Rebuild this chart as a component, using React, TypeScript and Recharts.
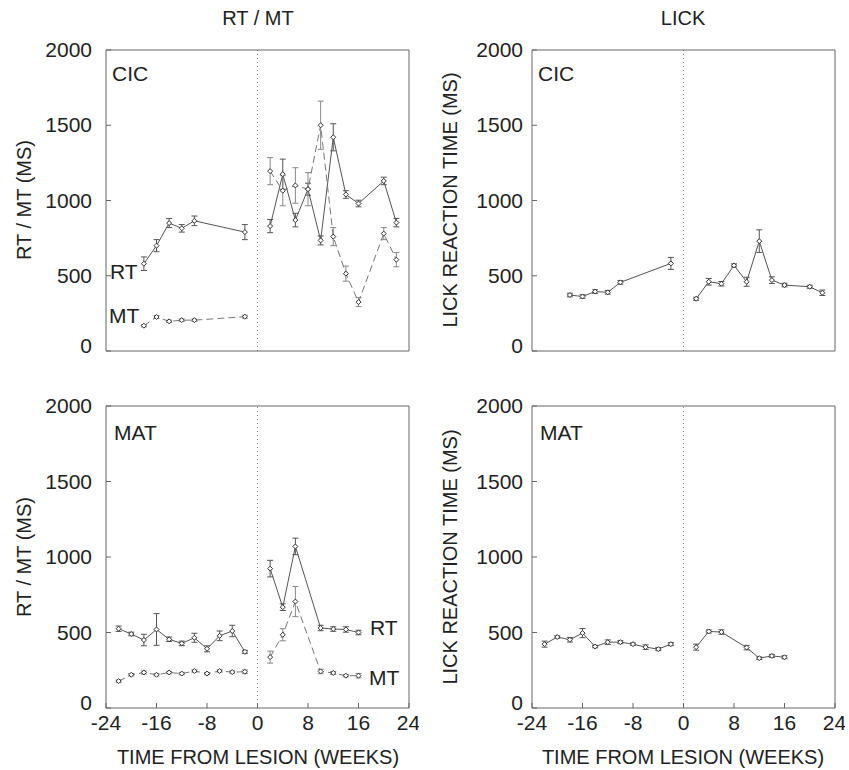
import { LineChart, Line, XAxis, YAxis, ErrorBar, ReferenceLine } from "recharts";

// ---- data (weeks from lesion, ms, sem) ----
const cicPreWeeks = [-18, -16, -14, -12, -10, -2];
const cicRtPre = [580, 700, 850, 815, 865, 790];
const cicRtPreErr = [45, 40, 30, 25, 32, 50];
const cicMtPre = [168, 226, 197, 205, 205, 228];
const cicMtPreErr = [8, 10, 8, 8, 8, 10];

const cicPostWeeks = [2, 4, 6, 8, 10, 12, 14, 16, 20, 22];
const cicRtPost = [830, 1175, 870, 1075, 735, 1420, 1040, 980, 1130, 853];
const cicRtPostErr = [44, 100, 45, 40, 30, 90, 25, 22, 25, 28];
const cicMtPost = [1195, 1065, 1100, 1075, 1500, 760, 514, 325, 780, 607];
const cicMtPostErr = [90, 100, 118, 110, 160, 60, 50, 30, 40, 47];

const matPreWeeks = [-22, -20, -18, -16, -14, -12, -10, -8, -6, -4, -2];
const matRtPre = [525, 490, 450, 520, 455, 428, 465, 392, 478, 510, 372];
const matRtPreErr = [18, 12, 38, 105, 15, 15, 30, 20, 32, 38, 10];
const matMtPre = [178, 220, 235, 220, 235, 228, 245, 228, 245, 238, 240];
const matMtPreErr = [8, 8, 10, 8, 8, 8, 8, 8, 8, 8, 12];

const matPostWeeks = [2, 4, 6, 10, 12, 14, 16];
const matRtPost = [923, 668, 1070, 530, 523, 520, 500];
const matRtPostErr = [55, 22, 55, 18, 15, 18, 15];
const matMtPost = [337, 485, 705, 242, 232, 214, 214];
const matMtPostErr = [40, 40, 100, 15, 10, 8, 15];

const lickCicPreWeeks = [-18, -16, -14, -12, -10, -2];
const lickCicPre = [372, 362, 395, 390, 456, 582];
const lickCicPreErr = [12, 12, 12, 12, 12, 40];
const lickCicPostWeeks = [2, 4, 6, 8, 10, 12, 14, 16, 20, 22];
const lickCicPost = [347, 460, 447, 569, 460, 730, 471, 438, 427, 387];
const lickCicPostErr = [10, 22, 15, 10, 30, 75, 22, 12, 10, 18];

const lickMatPreWeeks = [-22, -20, -18, -16, -14, -12, -10, -8, -6, -4, -2];
const lickMatPre = [423, 470, 452, 496, 407, 436, 436, 423, 403, 390, 423];
const lickMatPreErr = [20, 8, 15, 30, 8, 15, 10, 8, 15, 10, 10];
const lickMatPostWeeks = [2, 4, 6, 10, 12, 14, 16];
const lickMatPost = [403, 507, 503, 400, 330, 345, 336];
const lickMatPostErr = [20, 10, 15, 15, 8, 10, 10];

const WEEK_TICKS = [-24, -16, -8, 0, 8, 16, 24];
const MS_TICKS = [0, 500, 1000, 1500, 2000];

const FONT = "'Liberation Sans', Arial, sans-serif";
const AXIS = "#666";
const INK = "#222";

type Row = { w: number; v: number; e: number };
type SeriesDef = { id: string; data: Row[]; dashed?: boolean };

const rows = (weeks: number[], vals: number[], errs: number[]): Row[] =>
  weeks.map((w, i) => ({ w, v: vals[i], e: errs[i] }));

const Diamond = (props: any) => {
  const { cx, cy } = props;
  if (cx == null || cy == null) return null;
  return (
    <path
      d={`M${cx},${cy - 2.5} L${cx + 2.5},${cy} L${cx},${cy + 2.5} L${cx - 2.5},${cy} Z`}
      fill="#fff"
      stroke="#333"
      strokeWidth={1}
    />
  );
};

// y tick label; the "0" sits a little higher so it clears the "-24" below it
const YTick = (props: any) => {
  const { x, y, payload } = props;
  const lift = payload.value === 0 ? 5 : 0;
  return (
    <text x={x} y={y + 7 - lift} textAnchor="end" fontSize={21} fill={INK} fontFamily={FONT}>
      {payload.value}
    </text>
  );
};

const PLOT_W = 303;

function Panel({
  left,
  top,
  height,
  series,
  xLabels,
  yTickMargin,
}: {
  left: number;
  top: number;
  height: number;
  series: SeriesDef[];
  xLabels: boolean;
  yTickMargin: number;
}) {
  const padL = 100;
  const padT = 20;
  const padR = 10;
  const padB = 40;
  // top / right axes are 1px thick so they are drawn and close the frame
  return (
    <div style={{ position: "absolute", left: left - padL, top: top - padT }}>
      <LineChart
        width={padL + PLOT_W + padR}
        height={padT + height + padB}
        margin={{ top: padT - 1, right: padR - 1, bottom: 0, left: 0 }}
      >
        <XAxis
          type="number"
          dataKey="w"
          domain={[-24, 24]}
          ticks={WEEK_TICKS}
          allowDataOverflow
          height={padB}
          stroke={AXIS}
          tickSize={-5}
          tickMargin={12}
          tick={xLabels ? { fontSize: 21, fill: INK, fontFamily: FONT } : false}
        />
        <XAxis
          xAxisId="top"
          orientation="top"
          type="number"
          dataKey="w"
          domain={[-24, 24]}
          ticks={WEEK_TICKS}
          allowDataOverflow
          height={1}
          stroke={AXIS}
          tickSize={-5}
          tick={false}
        />
        <YAxis
          type="number"
          domain={[0, 2000]}
          ticks={MS_TICKS}
          allowDataOverflow
          width={padL}
          stroke={AXIS}
          tickSize={-5}
          tickMargin={yTickMargin}
          tick={<YTick />}
        />
        <YAxis
          yAxisId="right"
          orientation="right"
          type="number"
          domain={[0, 2000]}
          ticks={MS_TICKS}
          allowDataOverflow
          width={1}
          stroke={AXIS}
          tickSize={-5}
          tick={false}
        />
        <ReferenceLine x={0} stroke="#888" strokeDasharray="1 3" />
        {series.map((s) => (
          <Line
            key={s.id}
            data={s.data}
            dataKey="v"
            type="linear"
            stroke={s.dashed ? "#777" : "#555"}
            strokeWidth={1}
            strokeDasharray={s.dashed ? "7 4" : undefined}
            dot={<Diamond />}
            activeDot={false}
            isAnimationActive={false}
          >
            <ErrorBar dataKey="e" direction="y" width={3} stroke={s.dashed ? "#888" : "#555"} strokeWidth={1} />
          </Line>
        ))}
      </LineChart>
    </div>
  );
}

const txt = (x: number, y: number, s: string, size = 21, rotate = false, anchor = "center") => (
  <div
    key={s + x + y}
    style={{
      position: "absolute",
      left: x,
      top: y,
      fontSize: size,
      lineHeight: 1,
      whiteSpace: "nowrap",
      color: INK,
      transform:
        (anchor === "left" ? "translate(0,-50%)" : "translate(-50%,-50%)") + (rotate ? " rotate(-90deg)" : ""),
    }}
  >
    {s}
  </div>
);

export default function App() {
  return (
    <div
      style={{
        position: "absolute",
        left: 0,
        top: 0,
        width: 849,
        height: 770,
        background: "#fff",
        fontFamily: FONT,
      }}
    >
      <Panel
        left={106}
        top={50}
        height={301}
        xLabels={false}
        yTickMargin={19}
        series={[
          { id: "rtPre", data: rows(cicPreWeeks, cicRtPre, cicRtPreErr) },
          { id: "mtPre", data: rows(cicPreWeeks, cicMtPre, cicMtPreErr), dashed: true },
          { id: "rtPost", data: rows(cicPostWeeks, cicRtPost, cicRtPostErr) },
          { id: "mtPost", data: rows(cicPostWeeks, cicMtPost, cicMtPostErr), dashed: true },
        ]}
      />
      <Panel
        left={532}
        top={50}
        height={301}
        xLabels={false}
        yTickMargin={14}
        series={[
          { id: "pre", data: rows(lickCicPreWeeks, lickCicPre, lickCicPreErr) },
          { id: "post", data: rows(lickCicPostWeeks, lickCicPost, lickCicPostErr) },
        ]}
      />
      <Panel
        left={106}
        top={406}
        height={302}
        xLabels
        yTickMargin={19}
        series={[
          { id: "rtPre", data: rows(matPreWeeks, matRtPre, matRtPreErr) },
          { id: "mtPre", data: rows(matPreWeeks, matMtPre, matMtPreErr), dashed: true },
          { id: "rtPost", data: rows(matPostWeeks, matRtPost, matRtPostErr) },
          { id: "mtPost", data: rows(matPostWeeks, matMtPost, matMtPostErr), dashed: true },
        ]}
      />
      <Panel
        left={532}
        top={406}
        height={302}
        xLabels
        yTickMargin={14}
        series={[
          { id: "pre", data: rows(lickMatPreWeeks, lickMatPre, lickMatPreErr) },
          { id: "post", data: rows(lickMatPostWeeks, lickMatPost, lickMatPostErr) },
        ]}
      />

      {txt(258, 18, "RT / MT", 20)}
      {txt(683, 18, "LICK", 20)}
      {txt(24, 200, "RT / MT (MS)", 20, true)}
      {txt(24, 557, "RT / MT (MS)", 20, true)}
      {txt(450, 200, "LICK REACTION TIME (MS)", 20, true)}
      {txt(450, 557, "LICK REACTION TIME (MS)", 20, true)}
      {txt(258, 757, "TIME FROM LESION (WEEKS)", 20)}
      {txt(683, 757, "TIME FROM LESION (WEEKS)", 20)}

      {txt(112, 73, "CIC", 21, false, "left")}
      {txt(538, 73, "CIC", 21, false, "left")}
      {txt(114, 432, "MAT", 21, false, "left")}
      {txt(540, 432, "MAT", 21, false, "left")}

      {txt(110, 271, "RT", 21, false, "left")}
      {txt(109, 315, "MT", 21, false, "left")}
      {txt(370, 627, "RT", 21, false, "left")}
      {txt(369, 677, "MT", 21, false, "left")}
    </div>
  );
}
